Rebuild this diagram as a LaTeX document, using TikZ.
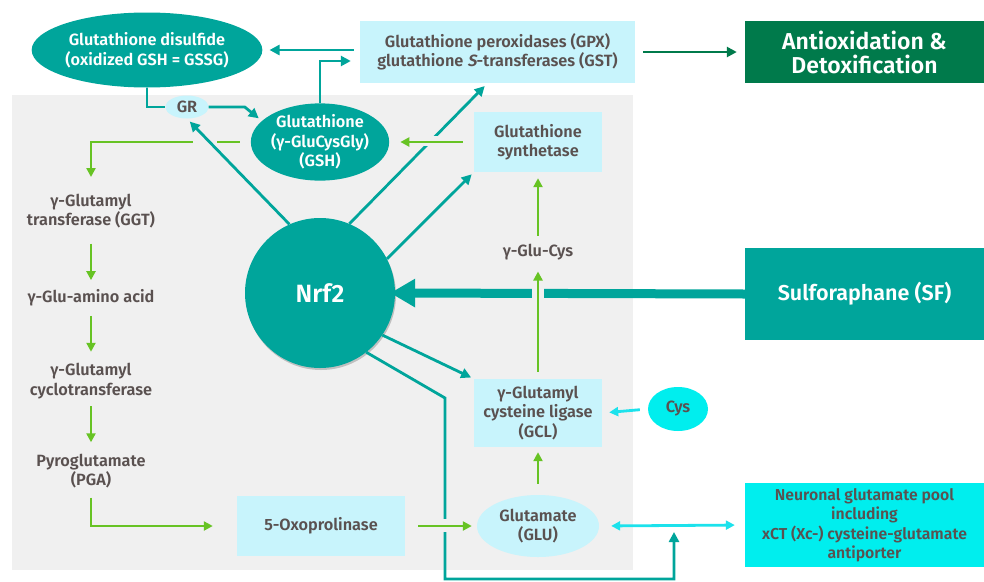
\documentclass[tikz,border=0pt]{standalone}
\usepackage{fontspec}
\setmainfont{Fira Sans}[BoldFont={Fira Sans SemiBold}]
\newfontface\semiit{Fira Sans SemiBold}[FakeSlant=0.2]
\usetikzlibrary{shapes.geometric,arrows.meta,shadows}
\definecolor{tealA}{HTML}{00A59B}
\definecolor{dkgreen}{HTML}{007A4B}
\definecolor{lgreen}{HTML}{67C324}
\definecolor{lcyan}{HTML}{C8F4FC}
\definecolor{bcyan}{HTML}{00EEEE}
\definecolor{cyarrow}{HTML}{1CE2EC}
\definecolor{txtc}{HTML}{5A5150}
\definecolor{bggray}{HTML}{F0F0F0}
\begin{document}
\begin{tikzpicture}[x=1pt,y=-1pt,
  font=\bfseries\fontsize{16.3}{19.5}\selectfont,
  lbox/.style={fill=lcyan,text=txtc,align=center,inner sep=0pt},
  tealell/.style={ellipse,fill=tealA,text=white,align=center,inner sep=0pt},
  lightell/.style={ellipse,fill=lcyan,text=txtc,align=center,inner sep=0pt},
  lbl/.style={text=txtc,align=center},
  tline/.style={draw=tealA,line width=2.8pt},
  tarrow/.style={tline,-{Triangle[length=10pt,width=10pt]}},
  garrow/.style={draw=lgreen,line width=2.8pt,-{Triangle[length=9pt,width=9pt]}},
  carrow/.style={draw=cyarrow,line width=2.8pt,-{Triangle[length=9pt,width=9pt]}},
  darrow/.style={draw=dkgreen,line width=2.8pt,-{Triangle[length=10pt,width=10pt]}},
  sfarrow/.style={draw=tealA,line width=9pt,-{Triangle[length=25pt,width=27pt]}},
  patch/.style={fill=bggray}
]
\fill[white] (0,0) rectangle (984,581);
\useasboundingbox (0,0) rectangle (984,581);
\fill[bggray] (12,95) rectangle (633,570);

% nodes
\node[tealell,minimum width=221pt,minimum height=75pt] (gssg) at (147,50) {Glutathione disulfide\\(oxidized GSH = GSSG)};
\node[lbox,minimum width=275pt,minimum height=62pt] (gpx) at (497.5,52) {Glutathione peroxidases (GPX)\\glutathione {\semiit S}-transferases (GST)};
\node[fill=dkgreen,text=white,minimum width=239pt,minimum height=62pt,align=center,inner sep=0pt,font=\bfseries\fontsize{23}{24}\selectfont] (anti) at (864.5,52) {Antioxidation \&\\Detoxification};
\node[lightell,minimum width=43pt,minimum height=23pt] (gr) at (187,107) {GR};
\node[tealell,minimum width=134pt,minimum height=72pt] (gsh) at (320,142) {Glutathione\\(γ-GluCysGly)\\(GSH)};
\node[lbox,minimum width=128pt,minimum height=60pt] (syn) at (538,142) {Glutathione\\synthetase};
\node[circle,fill=tealA,text=white,minimum size=150pt,inner sep=0pt,font=\bfseries\fontsize{25}{30}\selectfont,
  drop shadow={shadow xshift=1pt,shadow yshift=-2pt,opacity=.2,fill=black}] (nrf) at (320,293) {Nrf2};
\node[fill=tealA,text=white,minimum width=239pt,minimum height=92pt,inner sep=0pt,font=\bfseries\fontsize{21.5}{24}\selectfont] (sf) at (864.5,294) {Sulforaphane (SF)};
\node[lbl] (gc) at (538,252) {γ-Glu-Cys};
\node[lbox,minimum width=128pt,minimum height=68pt] (gcl) at (538,413) {γ-Glutamyl\\cysteine ligase\\(GCL)};
\node[ellipse,fill=bcyan,text=txtc,minimum width=60pt,minimum height=44pt,inner sep=0pt] (cys) at (678,409) {Cys};
\node[lightell,minimum width=122pt,minimum height=62pt] (glu) at (538,526) {Glutamate\\(GLU)};
\node[fill=bcyan,text=txtc,minimum width=239pt,minimum height=84pt,align=center,inner sep=0pt,font=\bfseries\fontsize{15.8}{19.5}\selectfont] (neu) at (864.5,525) {Neuronal glutamate pool\\including\\xCT (Xc-) cysteine-glutamate\\antiporter};
\node[lbox,minimum width=168pt,minimum height=60pt] (oxo) at (321,526) {5-Oxoprolinase};
\node[lbl] (ggt) at (91,211) {γ-Glutamyl\\transferase (GGT)};
\node[lbl] (gaa) at (91,298) {γ-Glu-amino acid};
\node[lbl] (gcy) at (91,381) {γ-Glutamyl\\cyclotransferase};
\node[lbl] (pga) at (91,471) {Pyroglutamate\\(PGA)};

\coordinate (gtop) at (91,177);
\coordinate (b1) at (445,398);
\coordinate (b2) at (445,579);
\coordinate (jn) at (674,526);

% top connectors
\draw[tarrow,shorten <=6pt,shorten >=7pt] (gpx.west |- gssg.east) -- (gssg.east);
\draw[tarrow,shorten >=9pt] (gsh.north) |- ([yshift=-9pt]gpx.west);
\draw[darrow,shorten <=8pt,shorten >=8pt] (gpx.east) -- (anti.west);
\draw[tline] (gssg.south) |- (gr.west);
\draw[tarrow,shorten >=4pt] (gr.east) -- ++(36,0) -- (gsh.160);

% green GSH -> left (with crossing gap)
\draw[garrow,shorten <=11pt] (gsh.west) -| (gtop);
\fill[patch] (193,135) rectangle (217,147);
\draw[tarrow,shorten >=4pt] (nrf.114) -- (gr.south);

% Nrf2 -> GPX under green synthetase arrow
\draw[tarrow,shorten >=4pt] (nrf.67) -- ([xshift=-10pt]gpx.south);
\fill[patch] (420,136) rectangle (445,146);
\draw[garrow,shorten <=11pt,shorten >=11pt] (syn.west) -- (gsh.east);
\draw[tarrow,shorten >=3pt] (nrf.27) -- (syn.south west);
\draw[tarrow,shorten >=3pt] (nrf.-34) -- (gcl.north west);

% SF thick arrow
\draw[sfarrow,shorten >=-5pt] (sf.west) -- (nrf.east);
\fill[patch] (532,285) rectangle (544,303);
\draw[garrow,shorten <=7pt,shorten >=8pt] (gcl.north) -- (gc.south);
\draw[garrow,shorten <=5pt,shorten >=6pt] (gc.north) -- (syn.south);

% bottom teal path
\draw[tarrow,shorten >=6pt] (nrf.-52) -- (b1) -- (b2) -| (jn);
\fill[patch] (439,519) rectangle (451,532);
\draw[garrow,shorten <=13pt,shorten >=5pt] (oxo.east) -- (glu.west);

% other green
\draw[garrow,shorten <=11pt,shorten >=5pt] (glu.north) -- (gcl.south);
\draw[garrow,shorten <=12pt,shorten >=6pt] (ggt.south) -- (gaa.north);
\draw[garrow,shorten <=6pt,shorten >=8pt] (gaa.south) -- (gcy.north);
\draw[garrow,shorten <=4pt,shorten >=8pt] (gcy.south) -- (pga.north);
\draw[garrow,shorten <=6pt,shorten >=24pt] (pga.south) |- (oxo.west);

% cyan
\draw[carrow,shorten <=8pt,shorten >=7pt] (cys.west) -- (gcl.east);
\draw[carrow,{Triangle[length=9pt,width=9pt]}-{Triangle[length=9pt,width=9pt]},shorten <=12pt,shorten >=10pt] (glu.east) -- (neu.west);
\end{tikzpicture}
\end{document}
